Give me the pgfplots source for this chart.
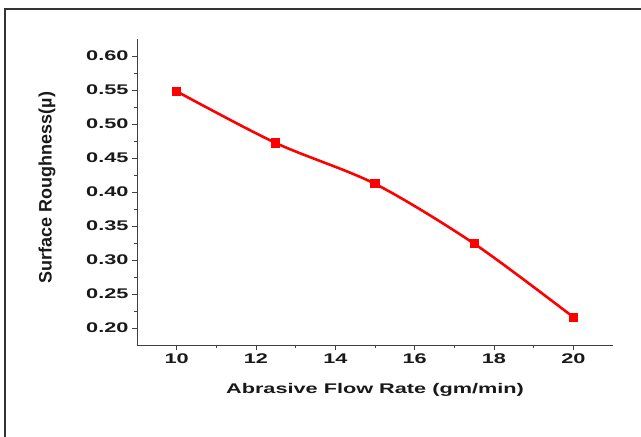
\documentclass[border=0pt]{standalone}
\usepackage{pgfplots}
\pgfplotsset{compat=1.18}
\usepackage{fontspec}
\setmainfont{Liberation Sans}
\newfontfamily\wide[FakeStretch=1.55]{Liberation Sans}

\begin{document}
\begin{tikzpicture}
\useasboundingbox (0pt,0pt) rectangle (641pt,437pt);
% outer frame of the page
\draw[line width=2.5pt, black!80] (5pt,0pt) -- (5pt,428pt) -- (641pt,428pt);
\begin{axis}[
    at={(137pt,92pt)}, anchor=south west,
    scale only axis,
    width=476pt, height=306pt,
    xmin=9, xmax=21,
    ymin=0.175, ymax=0.625,
    axis x line*=bottom,
    axis y line*=left,
    axis line style={black!75, line width=0.9pt},
    xtick={10,12,14,16,18,20},
    ytick={0.2,0.25,0.3,0.35,0.4,0.45,0.5,0.55,0.6},
    minor x tick num=1,
    minor y tick num=1,
    tick align=outside,
    major tick length=5pt,
    minor tick length=3pt,
    tick style={black!75, line width=0.9pt},
    /pgf/number format/assume math mode=true,
    yticklabel style={/pgf/number format/.cd, fixed, fixed zerofill, precision=2},
    ticklabel style={font=\wide\bfseries\fontsize{14}{16}\selectfont, black!90},
    xlabel={Abrasive Flow Rate (gm/min)},
    ylabel={Surface Roughness(µ)},
    xlabel style={at={(axis description cs:0.5,-0.147)}, anchor=center,
      font=\wide\bfseries\fontsize{14}{16}\selectfont, black!90},
    ylabel style={at={(axis description cs:-0.189,0.515)}, anchor=center, rotate=0,
      font=\bfseries\fontsize{18}{20}\selectfont, black!90},
]
\addplot[red, line width=2.6pt, smooth, mark=square*, mark size=3.3pt,
  mark options={solid}]
coordinates {
(10,0.548) (12.5,0.472) (15,0.412) (17.5,0.324) (20,0.216)
};
\end{axis}
\end{tikzpicture}
\end{document}
